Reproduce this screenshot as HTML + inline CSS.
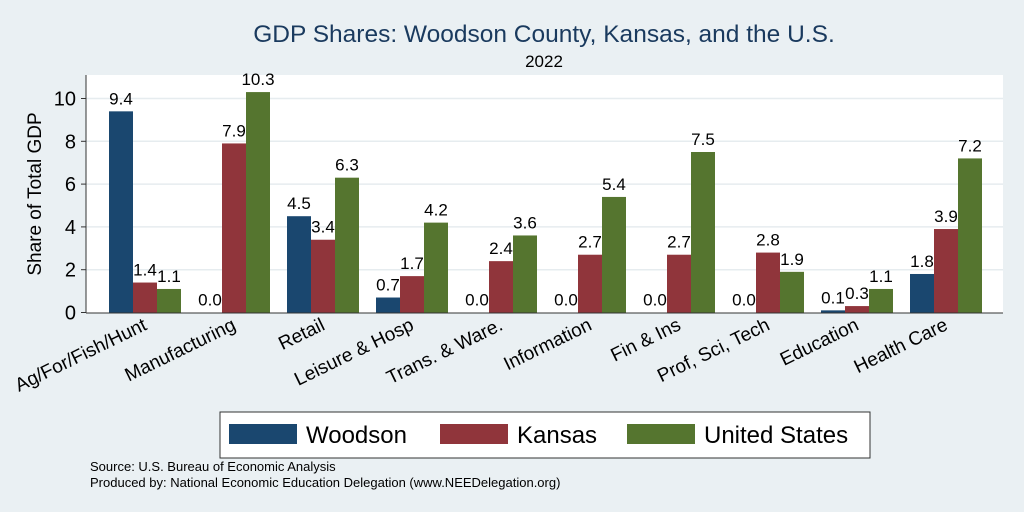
<!DOCTYPE html>
<html><head><meta charset="utf-8"><style>
body{margin:0;background:#eaf0f3;}
svg{display:block;font-family:"Liberation Sans",Arial,sans-serif;}
</style></head><body>
<svg width="1024" height="512" id="chart">
<rect x="0" y="0" width="1024" height="512" fill="#eaf0f3"/>
<text x="544" y="42" font-size="24.5" fill="#1a3a5e" text-anchor="middle">GDP Shares: Woodson County, Kansas, and the U.S.</text>
<text x="544" y="67" font-size="17" fill="#000" text-anchor="middle">2022</text>
<rect x="86" y="75" width="917" height="238" fill="#fff"/>
<g id="grid"></g><g id="bars"></g><g id="labels"></g>
<line x1="86" y1="75" x2="86" y2="313" stroke="#333" stroke-width="1"/>
<line x1="86" y1="313" x2="1003" y2="313" stroke="#333" stroke-width="1"/>
<text transform="translate(41,194) rotate(-90)" font-size="19" text-anchor="middle">Share of Total GDP</text>
<g>
<rect x="220" y="412" width="650" height="46" fill="#fff" stroke="#333" stroke-width="1"/>
<rect x="229" y="424" width="68" height="20" fill="#1a476f"/>
<text x="306" y="443" font-size="24">Woodson</text>
<rect x="440" y="424" width="68" height="20" fill="#90353b"/>
<text x="517" y="443" font-size="24">Kansas</text>
<rect x="627" y="424" width="68" height="20" fill="#55752f"/>
<text x="704" y="443" font-size="24">United States</text>
</g>
<text x="90" y="471" font-size="13">Source: U.S. Bureau of Economic Analysis</text>
<text x="90" y="487" font-size="13">Produced by: National Economic Education Delegation (www.NEEDelegation.org)</text>
</svg>
<script>
const categories=["Ag/For/Fish/Hunt","Manufacturing","Retail","Leisure & Hosp","Trans. & Ware.","Information","Fin & Ins","Prof, Sci, Tech","Education","Health Care"];
const woodson=[9.4,0.0,4.5,0.7,0.0,0.0,0.0,0.0,0.1,1.8];
const kansas=[1.4,7.9,3.4,1.7,2.4,2.7,2.7,2.8,0.3,3.9];
const us=[1.1,10.3,6.3,4.2,3.6,5.4,7.5,1.9,1.1,7.2];
const yTicks=[0,2,4,6,8,10];
const NS="http://www.w3.org/2000/svg";
const y=v=>312.5-v*21.4;
const xc=i=>145+i*89;
const bw=24;
function mk(t,a,p){const e=document.createElementNS(NS,t);for(const k in a)e.setAttribute(k,a[k]);p.appendChild(e);return e;}
const grid=document.getElementById('grid'),bars=document.getElementById('bars'),labels=document.getElementById('labels');
yTicks.forEach(t=>{
 if(t>0){const g=mk('line',{x1:86,x2:1003,y1:y(t),y2:y(t),stroke:'#e6ecef','stroke-width':1.5},grid);
 
 }
 const tl=mk('line',{x1:81,x2:86,y1:y(t),y2:y(t),stroke:'#333'},grid);
 
 
 const tx=mk('text',{x:76,y:y(t)+7,'font-size':20,'text-anchor':'end'},grid);tx.textContent=t;
 
 
});
const series=[[woodson,'#1a476f','woodson'],[kansas,'#90353b','kansas'],[us,'#55752f','us']];
categories.forEach((c,i)=>{
 series.forEach(([arr,col,nm],s)=>{
  const x0=xc(i)-36+s*bw,v=arr[i];
  const r=mk('rect',{x:x0,y:y(v),width:bw,height:312.5-y(v),fill:col},bars);
  
  
  const t=mk('text',{x:x0+bw/2,y:y(v)-7,'font-size':17,'text-anchor':'middle'},labels);t.textContent=v.toFixed(1);
  
  
 });
 const tl=mk('text',{transform:`translate(${xc(i)+3},${329}) rotate(-26)`,'font-size':19,'text-anchor':'end'},labels);tl.textContent=c;
 
 
});
</script>
</body></html>
